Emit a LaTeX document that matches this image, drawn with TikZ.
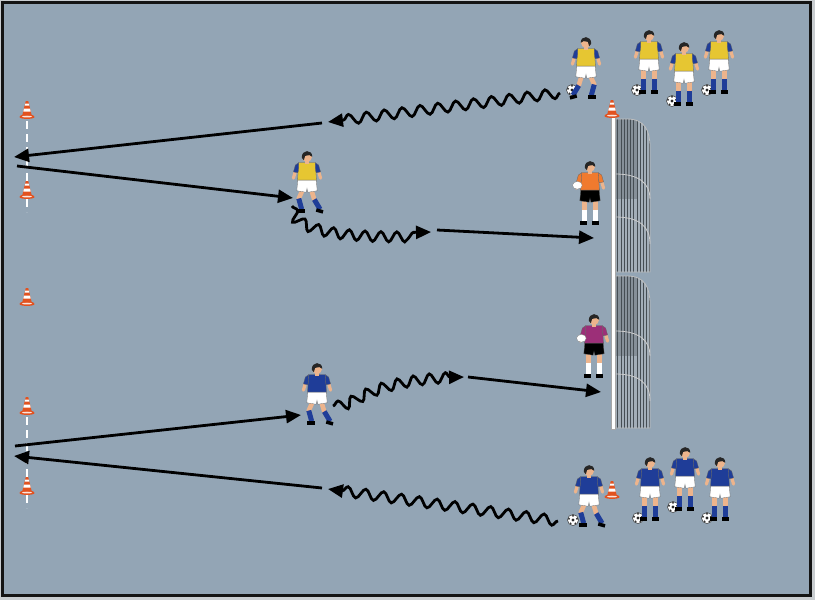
\documentclass[tikz,border=0pt]{standalone}
\usetikzlibrary{arrows.meta,decorations.pathmorphing}
\definecolor{field}{HTML}{93A5B5}
\definecolor{outer}{HTML}{C9CDD0}
\definecolor{borderc}{HTML}{141414}
\definecolor{coneor}{HTML}{E2521F}
\definecolor{skin}{HTML}{EDB48C}
\definecolor{yel}{HTML}{E6C632}
\definecolor{blu}{HTML}{1F3D98}
\definecolor{orng}{HTML}{F07A2E}
\definecolor{mag}{HTML}{9C2F78}
\definecolor{netbg}{HTML}{A3AEB8}
\definecolor{netc}{HTML}{454D53}
\newcommand\pupper[3]{%
  \draw[skin, line width=3.2pt, line cap=round] (-12,-13) -- (-14,-6);
  \draw[skin, line width=3.2pt, line cap=round] (12,-13) -- (14,-6);
  \filldraw[fill=#3, draw=black!60, line width=.3pt] (-9.5,-5) -- (9.5,-5) -- (10.5,7) -- (0.8,8.5) -- (0,4.5) -- (-0.8,8.5) -- (-10.5,7) -- cycle;
  \filldraw[fill=#1, draw=black!60, line width=.3pt] (-8.5,-22) -- (8.5,-22) -- (9.8,-4) -- (-9.8,-4) -- cycle;
  \filldraw[fill=#2, draw=black!60, line width=.3pt] (-8.5,-22) -- (-12,-19.5) -- (-14,-12.5) -- (-9.5,-11.5) -- (-8.8,-15) -- cycle;
  \filldraw[fill=#2, draw=black!60, line width=.3pt] (8.5,-22) -- (12,-19.5) -- (14,-12.5) -- (9.5,-11.5) -- (8.8,-15) -- cycle;
  \fill[skin] (-2.3,-25) rectangle (2.3,-21);
  \fill[skin] (0,-28) circle[radius=5.2pt];
  \fill[black!85] (-5.4,-27) .. controls (-5.8,-36) and (5.8,-36) .. (5.4,-28) -- (2.5,-29.8) -- (-2,-29) -- (-3.2,-24.5) -- cycle;
}
\newcommand\plegsstand[1]{%
  \draw[skin, line width=4.6pt] (-5.5,6) -- (-5.5,17);
  \draw[skin, line width=4.6pt] (5.5,6) -- (5.5,17);
  \draw[#1, line width=5pt] (-5.5,16) -- (-5.5,28);
  \draw[#1, line width=5pt] (5.5,16) -- (5.5,28);
  \fill[black] (-10,28) rectangle (-3,31.5);
  \fill[black] (2.5,28) rectangle (9.5,31.5);
}
\newcommand\plegsrun[1]{%
  \draw[skin, line width=4.6pt, line cap=round] (-4.5,6) -- (-8.5,15);
  \draw[#1, line width=5pt] (-8.5,15) -- (-5.5,26);
  \fill[black] (-10,25.5) rectangle (-2.5,29.5);
  \draw[skin, line width=4.6pt, line cap=round] (4.5,6) -- (7.5,16);
  \draw[#1, line width=5pt] (7.5,16) -- (13.5,26);
  \fill[black] (10,25) -- (17,27) -- (16,30.5) -- (9,28.5) -- cycle;
}
\tikzset{
  pics/player/.style n args={4}{code={\plegsstand{#4}\pupper{#1}{#2}{#3}}},
  pics/runner/.style n args={4}{code={\plegsrun{#4}\pupper{#1}{#2}{#3}}},
  pics/keeper/.style={code={\plegsstand{white}\pupper{#1}{#1}{black}%
     \filldraw[fill=white,draw=black!50,line width=.3pt] (-13,-9) ellipse (5pt and 4pt);}},
  pics/ball/.style={code={
     \filldraw[fill=white, draw=black!80, line width=.5pt] (0,0) circle[radius=5.5pt];
     \fill[black!85] (0,0) circle[radius=1.7pt];
     \foreach \a in {18,90,162,234,306} \fill[black!80] (\a:4.2pt) circle[radius=1.1pt];}},
  pics/cone/.style={code={
     \fill[coneor] (-7.5,0) .. controls (-7.5,-3.5) and (7.5,-3.5) .. (7.5,0) .. controls (7.5,2.5) and (-7.5,2.5) .. (-7.5,0);
     \fill[white!85!coneor] (-5,-0.5) .. controls (-5,-2) and (5,-2) .. (5,-0.5) .. controls (5,0.8) and (-5,0.8) .. (-5,-0.5);
     \fill[coneor] (-4.8,-1.5) -- (-1.2,-16) -- (1.2,-16) -- (4.8,-1.5) -- cycle;
     \fill[white] (-3.7,-5.5) -- (3.7,-5.5) -- (3,-8.5) -- (-3,-8.5) -- cycle;
     \fill[white] (-2.2,-11.5) -- (2.2,-11.5) -- (1.7,-13.5) -- (-1.7,-13.5) -- cycle;}},
  tip/.style={-{Triangle[length=15pt,width=13pt]}},
  arr/.style={line width=2.8pt, tip},
  snk/.style={line width=2.8pt, tip, decorate,
     decoration={snake, amplitude=5pt, segment length=18pt, post length=10pt}},
  snks/.style={snk, decoration={snake, amplitude=5pt, segment length=16pt, post length=10pt}},
  pl/.style={scale=.97},
}
\begin{document}
\begin{tikzpicture}[x=1pt,y=-1pt]
\useasboundingbox (0,0) rectangle (815,600);
\fill[outer] (0,0) rectangle (815,600);
\draw[fill=field, line width=3.2pt, draw=borderc] (2.6,2.6) rectangle (810.4,595.4);

% cones (base points)
\coordinate (c1) at (27,117);
\coordinate (c2) at (27,197);
\coordinate (c3) at (27,304);
\coordinate (c4) at (27,413);
\coordinate (c5) at (27,493);
\coordinate (c6) at (612,116);
\coordinate (c7) at (612,497);
\draw[white, line width=2.6pt, dash pattern=on 8pt off 5pt] ([yshift=-4pt]c1) -- ([yshift=-15pt]c2);
\draw[white, line width=2.6pt, dash pattern=on 8pt off 5pt] ([yshift=-4pt]c4) -- ([yshift=-15pt]c5);

% goals
\foreach \t/\b in {119/272, 276/428}{
  \fill[netbg] (615,\t) -- (627,\t) .. controls (645,\t) and (650,\t+12) .. (650,\t+28) -- (650,\b) -- (615,\b) -- cycle;
  \begin{scope}
    \clip (615,\t) -- (627,\t) .. controls (645,\t) and (650,\t+12) .. (650,\t+28) -- (650,\b) -- (615,\b) -- cycle;
    \draw[netc, line width=.5pt, step=3.2] (612,\t-3) grid (653,\b+3);
    \fill[netc, opacity=.3] (615,\t) rectangle (637,\t+80);
  \end{scope}
  \draw[gray!50, line width=.8pt] (615,\t) -- (627,\t) .. controls (645,\t) and (650,\t+12) .. (650,\t+28) -- (650,\b) -- (615,\b);
  \draw[gray!40, line width=.8pt] (615,\t+55) .. controls (640,\t+55) and (650,\t+65) .. (650,\t+80);
  \draw[gray!40, line width=.8pt] (615,\t+98) .. controls (640,\t+98) and (650,\t+108) .. (650,\t+125);
}
\filldraw[fill=white, draw=gray!70, line width=.4pt] (611,114) rectangle (615.5,429);

\foreach \c in {c1,c2,c3,c4,c5,c6,c7} \pic at (\c) {cone};

% arrow end points
\coordinate (w1s) at (560,93);  \coordinate (w1e) at (328,122);
\coordinate (a1s) at (322,123); \coordinate (a1e) at (14,157);
\coordinate (a2s) at (17,166);  \coordinate (a2e) at (293,198);
\coordinate (w2s) at (292,206); \coordinate (w2e) at (431,232);
\coordinate (a3s) at (437,230); \coordinate (a3e) at (594,238);
\coordinate (a4s) at (15,446);  \coordinate (a4e) at (301,415);
\coordinate (w3s) at (333,406); \coordinate (w3e) at (464,377);
\coordinate (a5s) at (468,377); \coordinate (a5e) at (601,392);
\coordinate (w4s) at (558,521); \coordinate (w4e) at (328,489);
\coordinate (a6s) at (322,488); \coordinate (a6e) at (14,456);

\draw[snk] (w1s) -- (w1e);
\draw[arr] (a1s) -- (a1e);
\draw[arr] (a2s) -- (a2e);
\draw[snks] (w2s) .. controls (295,230) and (360,234) .. (w2e);
\draw[arr] (a3s) -- (a3e);
\draw[arr] (a4s) -- (a4e);
\draw[snks] (w3s) .. controls (352,406) and (362,378) .. (w3e);
\draw[arr] (a5s) -- (a5e);
\draw[snk] (w4s) -- (w4e);
\draw[arr] (a6s) -- (a6e);

% balls
\foreach \p/\q in {572/90, 637/90, 672/101, 707/90, 573/520, 638/518, 673/507, 707/518}
  \pic at (\p,\q) {ball};

% players top
\pic[pl, xscale=-1] (py1) at (586,70) {runner={yel}{blu}{white}{blu}};
\pic[pl] (py2) at (649,63) {player={yel}{blu}{white}{blu}};
\pic[pl] (py3) at (684,75) {player={yel}{blu}{white}{blu}};
\pic[pl] (py4) at (719,63) {player={yel}{blu}{white}{blu}};
% middle
\pic[pl] (pym) at (307,184) {runner={yel}{blu}{white}{blu}};
\pic[pl] (gk1) at (590,194) {keeper=orng};
\pic[pl] (gk2) at (594,347) {keeper=mag};
\pic[pl] (pbm) at (317,396) {runner={blu}{blu}{white}{blu}};
% bottom
\pic[pl] (pb1) at (589,498) {runner={blu}{blu}{white}{blu}};
\pic[pl] (pb2) at (650,490) {player={blu}{blu}{white}{blu}};
\pic[pl] (pb3) at (685,480) {player={blu}{blu}{white}{blu}};
\pic[pl] (pb4) at (720,490) {player={blu}{blu}{white}{blu}};
\end{tikzpicture}
\end{document}
